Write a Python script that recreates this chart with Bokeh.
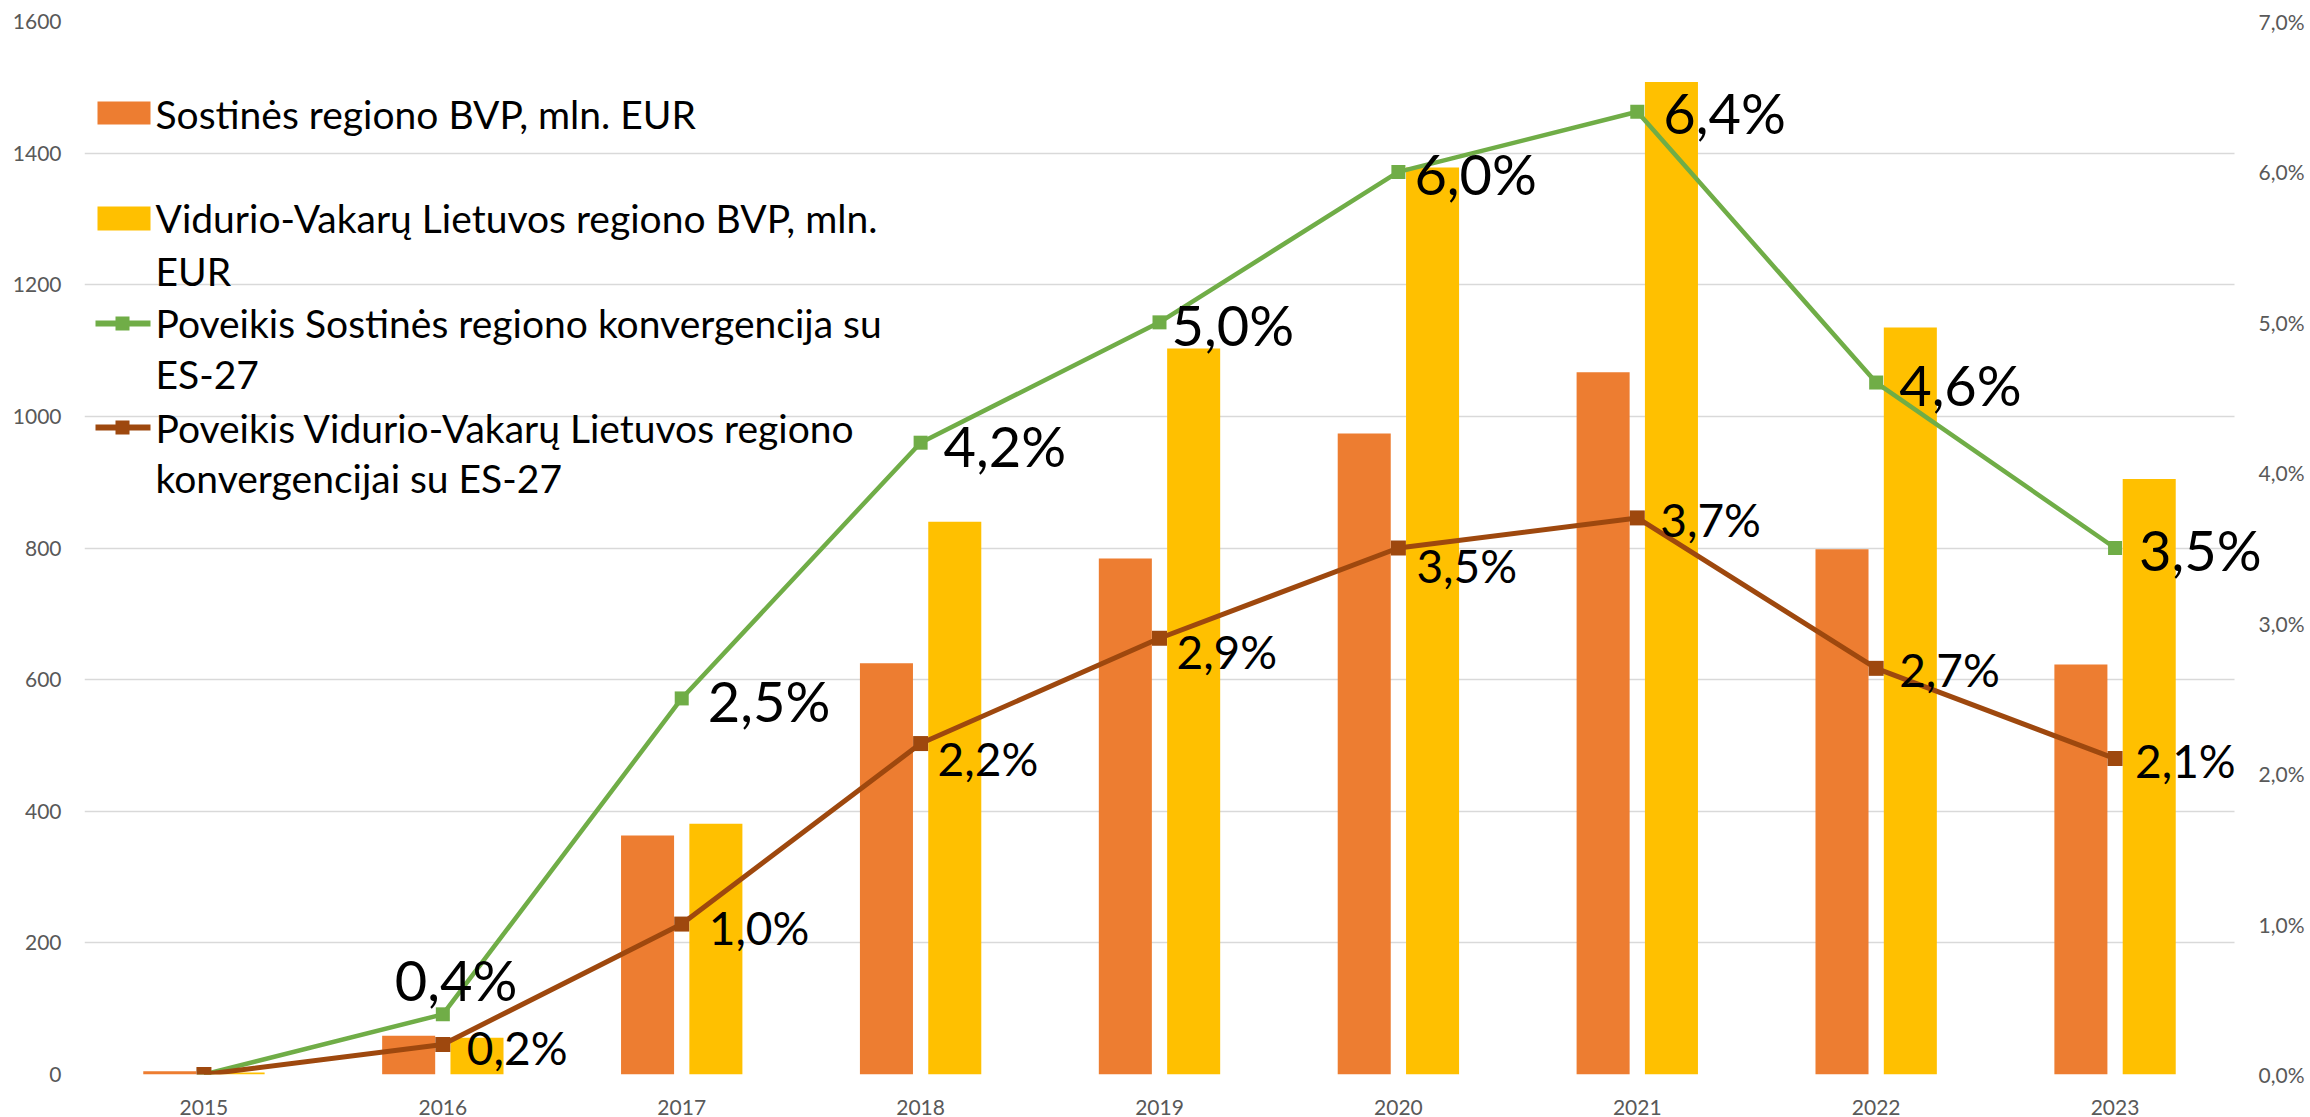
from bokeh.plotting import figure
from bokeh.models import (ColumnDataSource, Range1d, LinearAxis, FixedTicker,
                          CustomJSTickFormatter, Label)
from bokeh.transform import dodge
from bokeh.core.properties import value
from bokeh.embed import file_html
from bokeh.resources import INLINE

# ---------------- data ----------------
years = ["2015", "2016", "2017", "2018", "2019", "2020", "2021", "2022", "2023"]
sostines_bvp = [5, 59, 363, 625, 784, 974, 1067, 798, 623]
vidurio_bvp = [3, 56, 381, 840, 1103, 1378, 1508, 1135, 905]
sostines_pct = [0.0, 0.4, 2.5, 4.2, 5.0, 6.0, 6.4, 4.6, 3.5]
vidurio_pct = [0.0, 0.2, 1.0, 2.2, 2.9, 3.5, 3.7, 2.7, 2.1]
left_ticks = [0, 200, 400, 600, 800, 1000, 1200, 1400, 1600]
right_ticks = [0, 1, 2, 3, 4, 5, 6, 7]

legend_labels = [
    ["Sostinės regiono BVP, mln. EUR"],
    ["Vidurio-Vakarų Lietuvos regiono BVP, mln.", "EUR"],
    ["Poveikis Sostinės regiono konvergencija su", "ES-27"],
    ["Poveikis Vidurio-Vakarų Lietuvos regiono", "konvergencijai su ES-27"],
]

# label placement offsets (screen px, dy positive = down), per year from 2016
green_dx = [-48, 26, 23, 12, 16, 26, 23, 24]
green_dy = [-35, 2, 3, 2, 2, 1, 2, 1]
brown_dx = [24, 27, 17, 17, 18, 23, 23, 20]
brown_dy = [3, 3, 15, 13, 17, 2, 1, 2]

ORANGE = "#ED7D31"
YELLOW = "#FFC000"
GREEN = "#70AD47"
BROWN = "#9E480E"
GRID = "#D9D9D9"
AXIS_TXT = "#595959"
FONT = "Lato"

# geometry (canvas px)
W, H = 2310, 1117
FL, FT, FB = 84, 21, 1074
CAT_PX = 2150 / len(years)          # width of one year slot
EXTRA_PX = 30                        # room on the right for the last labels
FR = FL + len(years) * CAT_PX + EXTRA_PX
X_END = len(years) + EXTRA_PX / CAT_PX
PCT_MAX = 7.0


def fmt(v):
    return f"{v:.1f}".replace(".", ",") + "%"


xc = [i + 0.5 for i in range(len(years))]
src = ColumnDataSource(dict(xc=xc, sost=sostines_bvp, vid=vidurio_bvp,
                            sp=sostines_pct, vp=vidurio_pct))

p = figure(width=W, height=H, x_range=Range1d(0, X_END), y_range=Range1d(0, 1600),
           output_backend="svg", toolbar_location=None,
           min_border_left=FL, min_border_right=int(round(W - FR)), min_border_top=FT,
           min_border_bottom=H - FB)
p.outline_line_color = None
p.background_fill_color = "white"
p.border_fill_color = "white"
p.extra_y_ranges = {"pct": Range1d(0, PCT_MAX)}

right = LinearAxis(y_range_name="pct", ticker=FixedTicker(ticks=right_ticks),
                   formatter=CustomJSTickFormatter(code="return tick.toFixed(1).replace('.', ',') + '%';"))
p.add_layout(right, "right")

p.xaxis[0].ticker = FixedTicker(ticks=xc)
p.xaxis[0].formatter = CustomJSTickFormatter(args=dict(years=years),
                                             code="return years[Math.floor(tick)];")
p.yaxis[0].ticker = FixedTicker(ticks=left_ticks)
for ax in [p.xaxis[0], p.yaxis[0], right]:
    ax.axis_line_color = None
    ax.major_tick_line_color = None
    ax.minor_tick_line_color = None
    ax.major_tick_out = 0
    ax.major_tick_in = 0
    ax.major_label_text_color = AXIS_TXT
    ax.major_label_text_font = FONT
    ax.major_label_text_font_size = "21px"
p.yaxis[0].major_label_standoff = 23
right.major_label_standoff = -6
p.xaxis[0].major_label_standoff = 25
p.xaxis[0].major_label_text_line_height = 0.6

p.xgrid.grid_line_color = None
p.ygrid.grid_line_color = GRID
p.ygrid.grid_line_width = 1.5
p.ygrid.ticker = FixedTicker(ticks=left_ticks)
try:
    p.ygrid.cross_bounds = (0, len(years))
except Exception:
    pass

# bars
p.vbar(x=dodge("xc", -0.143), top="sost", width=0.222, bottom=0,
       fill_color=ORANGE, line_color=None, source=src)
p.vbar(x=dodge("xc", 0.143), top="vid", width=0.222, bottom=0,
       fill_color=YELLOW, line_color=None, source=src)

# lines
p.line("xc", "sp", y_range_name="pct", line_color=GREEN, line_width=4.5, source=src)
p.scatter("xc", "sp", y_range_name="pct", marker="square", size=14,
          fill_color=GREEN, line_color=None, source=src)
p.line("xc", "vp", y_range_name="pct", line_color=BROWN, line_width=5, source=src)
p.scatter("xc", "vp", y_range_name="pct", marker="square", size=15,
          fill_color=BROWN, line_color=None, source=src)

# data labels
per_px = PCT_MAX / (FB - FT)
for vals, dxs, dys, size in [(sostines_pct, green_dx, green_dy, "56px"),
                             (vidurio_pct, brown_dx, brown_dy, "46px")]:
    for i, (v, dx, dy) in enumerate(zip(vals[1:], dxs, dys), start=1):
        p.add_layout(Label(x=xc[i], y=v - dy * per_px, y_range_name="pct",
                           x_offset=dx, text=fmt(v), text_font=FONT, text_font_size=size,
                           text_color="black", text_align="left", text_baseline="middle"))

# ---------------- legend (drawn manually, canvas px -> data) ----------------


def gx(px):
    return (px - FL) / CAT_PX


def gy(py):
    return (FB - py) / (FB - FT) * 1600


p.quad(left=[gx(97), gx(97)], right=[gx(150), gx(150)],
       top=[gy(101), gy(206)], bottom=[gy(124), gy(230)],
       fill_color=[ORANGE, YELLOW], line_color=None)
for ly, col in [(323, GREEN), (427, BROWN)]:
    p.line([gx(95), gx(150)], [gy(ly), gy(ly)], line_color=col, line_width=6)
    p.scatter([gx(122)], [gy(ly)], marker="square", size=14, fill_color=col, line_color=None)

tx, ty, tt = [], [], []
mid_lines = [[113], [217, 270], [322, 373], [427, 477]]
for lines, mids in zip(legend_labels, mid_lines):
    for t, m in zip(lines, mids):
        tx.append(gx(155))
        ty.append(gy(m))
        tt.append(t)
p.text(x=tx, y=ty, text=tt, text_font=value(FONT), text_font_size="39px",
       text_color="black", text_align="left", text_baseline="middle")

open("out.html", "w").write(file_html(p, INLINE))
